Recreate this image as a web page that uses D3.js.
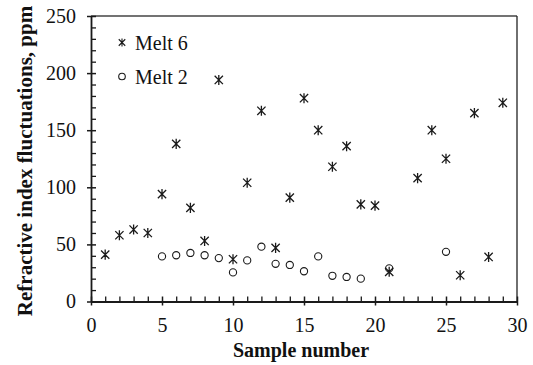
<!DOCTYPE html>
<html>
<head>
<meta charset="utf-8">
<script src="https://cdn.jsdelivr.net/npm/d3@7"></script>
<style>
  html, body { margin: 0; padding: 0; background: #fff; }
  svg { display: block; }
</style>
</head>
<body>
<svg id="chart" width="533" height="365"></svg>
<script>
// Sample numbers and measured fluctuations (ppm)
const melt6Samples = [1, 2, 3, 4, 5, 6, 7, 8, 9, 10, 11, 12, 13, 14, 15, 16, 17, 18, 19, 20, 21, 23, 24, 25, 26, 27, 28, 29];
const melt6Values  = [41, 58, 63, 60, 94, 138, 82, 53, 194, 37, 104, 167, 47, 91, 178, 150, 118, 136, 85, 84, 26, 108, 150, 125, 23, 165, 39, 174];
const melt2Samples = [5, 6, 7, 8, 9, 10, 11, 12, 13, 14, 15, 16, 17, 18, 19, 21, 25];
const melt2Values  = [39.5, 40.5, 42.5, 40.5, 38, 25.5, 36, 48, 33, 32, 26.5, 39.5, 22.5, 21.5, 20, 29, 43.5];
const xTicks = [0, 5, 10, 15, 20, 25, 30];
const yTicks = [0, 50, 100, 150, 200, 250];
const legendLabels = ["Melt 6", "Melt 2"];

const FONT = "Liberation Serif";
const svg = d3.select("#chart");
const ink = "#1a1a1a";

const x = d3.scaleLinear().domain([0, 30]).range([91, 517]);
const y = d3.scaleLinear().domain([0, 250]).range([301.5, 16]);

// frame: top and right edges
svg.append("line").attr("x1", x(0)).attr("x2", x(30)).attr("y1", y(250)).attr("y2", y(250))
  .attr("stroke", "#444").attr("stroke-width", 1.3);
svg.append("line").attr("x1", x(30)).attr("x2", x(30)).attr("y1", y(250)).attr("y2", y(0))
  .attr("stroke", "#222").attr("stroke-width", 1.3);

// minor ticks (inward)
const xMinor = d3.range(0, 31, 1).filter(v => v % 5 !== 0);
const yMinor = d3.range(0, 251, 10).filter(v => v % 50 !== 0);

const xMinorAxis = svg.append("g").attr("transform", `translate(0,${y(0)})`)
  .call(d3.axisBottom(x).tickValues(xMinor).tickSize(-5).tickFormat(""));
const yMinorAxis = svg.append("g").attr("transform", `translate(${x(0)},0)`)
  .call(d3.axisLeft(y).tickValues(yMinor).tickSize(-5).tickFormat(""));
[xMinorAxis, yMinorAxis].forEach(g => {
  g.select(".domain").remove();
  g.selectAll("line").attr("stroke", ink).attr("stroke-width", 1.3);
});

// major axes: ticks cross the axis line
const xAxis = svg.append("g").attr("transform", `translate(0,${y(0)})`)
  .call(d3.axisBottom(x).tickValues(xTicks).tickSizeOuter(0).tickSizeInner(4).tickPadding(12));
xAxis.selectAll(".tick line").attr("y1", -5).attr("y2", 4);

const yAxis = svg.append("g").attr("transform", `translate(${x(0)},0)`)
  .call(d3.axisLeft(y).tickValues(yTicks).tickSizeOuter(0).tickSizeInner(4).tickPadding(11));
yAxis.selectAll(".tick line").attr("x1", 5).attr("x2", -4);

[xAxis, yAxis].forEach(g => {
  g.attr("font-family", FONT).attr("font-size", 20);
  g.select(".domain").attr("stroke", ink).attr("stroke-width", 1.8);
  g.selectAll(".tick line").attr("stroke", ink).attr("stroke-width", 1.5);
  g.selectAll(".tick text").attr("fill", "#111");
});

// axis titles
svg.append("text")
  .attr("x", 301).attr("y", 357)
  .attr("text-anchor", "middle")
  .attr("font-family", FONT).attr("font-size", 20).attr("font-weight", "bold").attr("fill", "#111")
  .text("Sample number");

svg.append("text")
  .attr("transform", `translate(31.5,161) rotate(-90)`)
  .attr("text-anchor", "middle")
  .attr("font-family", FONT).attr("font-size", 21).attr("font-weight", "bold").attr("fill", "#111")
  .text("Refractive index fluctuations, ppm");

// asterisk marker: an X crossed by a vertical stroke
function asterisk(r) {
  const d = r * 0.9;
  return `M${-d},${-d}L${d},${d}M${-d},${d}L${d},${-d}M0,${-r * 1.1}L0,${r * 1.1}`;
}

const melt6 = melt6Samples.map((s, i) => ({ s, v: melt6Values[i] }));
const melt2 = melt2Samples.map((s, i) => ({ s, v: melt2Values[i] }));

svg.append("g").selectAll("circle").data(melt2).join("circle")
  .attr("cx", d => x(d.s)).attr("cy", d => y(d.v)).attr("r", 3.6)
  .attr("fill", "none").attr("stroke", ink).attr("stroke-width", 1.1);

svg.append("g").selectAll("path").data(melt6).join("path")
  .attr("transform", d => `translate(${x(d.s)},${y(d.v)})`)
  .attr("d", asterisk(4.6))
  .attr("fill", "none").attr("stroke", ink).attr("stroke-width", 1.3);

// legend
const legend = svg.append("g");
legend.append("path").attr("transform", "translate(122,42.5)").attr("d", asterisk(3.6))
  .attr("fill", "none").attr("stroke", ink).attr("stroke-width", 1.1);
legend.append("circle").attr("cx", 122).attr("cy", 76.5).attr("r", 3.3)
  .attr("fill", "none").attr("stroke", ink).attr("stroke-width", 1.1);
legend.selectAll("text").data(legendLabels).join("text")
  .attr("x", 135).attr("y", (d, i) => 49.5 + i * 34)
  .attr("font-family", FONT).attr("font-size", 20).attr("fill", "#111")
  .text(d => d);
</script>
</body>
</html>
